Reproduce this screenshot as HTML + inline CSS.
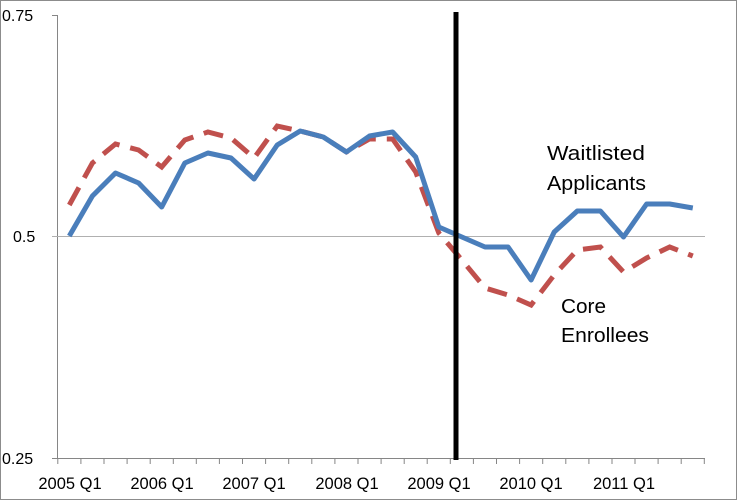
<!DOCTYPE html>
<html><head><style>
html,body{margin:0;padding:0;background:#fff;}
svg{display:block;}
text{font-family:"Liberation Sans",sans-serif;fill:#000;}
</style></head><body>
<svg width="737" height="500" viewBox="0 0 737 500">
<rect x="0.5" y="0.5" width="736" height="499" fill="#fff" stroke="#8c8c8c" stroke-width="1"/>
<line x1="57.5" y1="15" x2="57.5" y2="458" stroke="#868686"/>
<line x1="57" y1="458.5" x2="705" y2="458.5" stroke="#868686"/>
<line x1="52" y1="236.5" x2="705" y2="236.5" stroke="#b0b0b0"/>
<line x1="52" y1="15.5" x2="57" y2="15.5" stroke="#868686"/>
<line x1="52" y1="458.5" x2="57" y2="458.5" stroke="#868686"/>
<g id="ticks" stroke="#868686"></g>
<text x="2" y="21" font-size="16">0.75</text>
<text x="13" y="242" font-size="16">0.5</text>
<text x="2" y="464" font-size="16">0.25</text>
<g font-size="16.5" text-anchor="middle">
<text x="70" y="489">2005 Q1</text>
<text x="162" y="489">2006 Q1</text>
<text x="254" y="489">2007 Q1</text>
<text x="347" y="489">2008 Q1</text>
<text x="439" y="489">2009 Q1</text>
<text x="531" y="489">2010 Q1</text>
<text x="624" y="489">2011 Q1</text>
</g>
<polyline id="red" fill="none" stroke="#c0504d" stroke-width="5" stroke-dasharray="20,11" points=""/>
<polyline id="blue" fill="none" stroke="#4a7ebb" stroke-width="5" stroke-linejoin="round" points=""/>
<line x1="456" y1="12" x2="456" y2="460" stroke="#000" stroke-width="5"/>
<text x="547" y="160" font-size="20" textLength="98" lengthAdjust="spacingAndGlyphs">Waitlisted</text>
<text x="547" y="190" font-size="20" textLength="99" lengthAdjust="spacingAndGlyphs">Applicants</text>
<text x="561" y="313" font-size="20" textLength="45" lengthAdjust="spacingAndGlyphs">Core</text>
<text x="561" y="342" font-size="20" textLength="88" lengthAdjust="spacingAndGlyphs">Enrollees</text>
</svg>
<script>
var b=[236,196,173,183,207,163,153,158,179,145,131,137,152,136,132,157,227,237,247,247,280,232,211,211,237,204,204,208];
var r=[205,163,144,150,167,140,132,138,158,126,131,137,152,139,139,172,233,260,288,295,305,275,250,247,272,258,247,256];
function X(i){return 57.8+23.09*(i+0.5);}
document.getElementById('blue').setAttribute('points',b.map(function(v,i){return X(i).toFixed(1)+','+v}).join(' '));
document.getElementById('red').setAttribute('points',r.map(function(v,i){return X(i).toFixed(1)+','+v}).join(' '));
var g=document.getElementById('ticks'),s='';
for(var i=0;i<=28;i++){var x=(57.8+23.09*i).toFixed(1);s+='<line x1="'+x+'" y1="458" x2="'+x+'" y2="464"/>';}
g.innerHTML=s;
</script>
</body></html>
